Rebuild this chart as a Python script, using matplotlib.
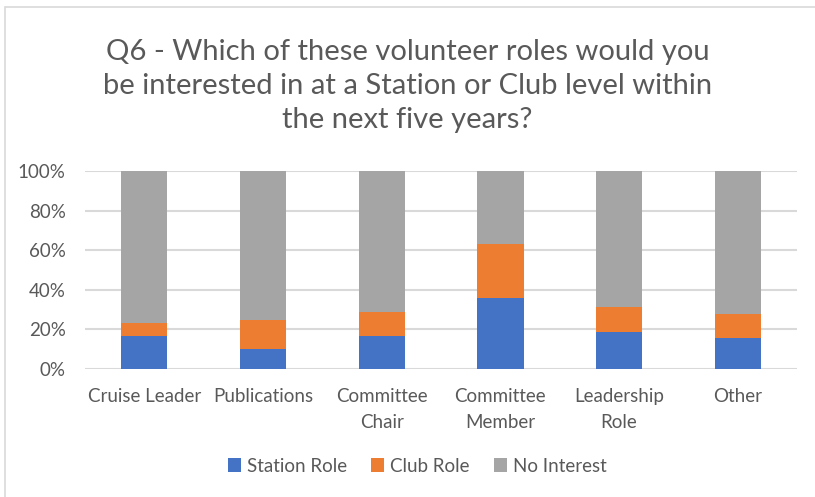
import matplotlib.pyplot as plt
from matplotlib.patches import Rectangle
import numpy as np

# survey answers (share of respondents, %)
roles = ['Cruise Leader', 'Publications', 'Committee\nChair', 'Committee\nMember', 'Leadership\nRole', 'Other']
station_role = [16.6, 9.9, 16.6, 36.0, 18.8, 15.5]
club_role = [6.8, 15.1, 12.1, 27.2, 12.3, 12.2]
no_interest = [76.6, 75.0, 71.3, 36.8, 68.9, 72.3]

plt.rcParams['font.family'] = ['Lato', 'DejaVu Sans']
text_col = '#595959'
colors = ['#4472C4', '#ED7D31', '#A5A5A5']

fig = plt.figure(figsize=(8.15, 4.97), dpi=100)
ax = fig.add_axes([0.1043, 0.2575, 0.8737, 0.3985])

x = np.arange(len(roles))
w = 0.39
s = np.array(station_role)
c = np.array(club_role)
n = np.array(no_interest)
ax.bar(x, s, w, color=colors[0], label='Station Role', zorder=3)
ax.bar(x, c, w, bottom=s, color=colors[1], label='Club Role', zorder=3)
ax.bar(x, n, w, bottom=s + c, color=colors[2], label='No Interest', zorder=3)

ax.set_xlim(-0.5, len(roles) - 0.5)
ax.set_ylim(0, 100)
ax.set_yticks(range(0, 101, 20))
ax.set_yticklabels([f'{v}%' for v in range(0, 101, 20)])
ax.set_xticks(x)
ax.set_xticklabels(roles, linespacing=1.6)
ax.tick_params(axis='y', length=0, pad=14, labelsize=13.5, labelcolor=text_col)
ax.tick_params(axis='x', length=0, pad=14, labelsize=13.5, labelcolor=text_col)
ax.grid(axis='y', color='#D9D9D9', linewidth=1.5, zorder=0)
for sp in ax.spines.values():
    sp.set_visible(False)

fig.text(0.5, 0.826,
         'Q6 - Which of these volunteer roles would you\nbe interested in at a Station or Club level within\nthe next five years?',
         ha='center', va='center', fontsize=21, color=text_col, linespacing=1.38)

fig.legend(loc='center', bbox_to_anchor=(0.512, 1 - 466 / 497), ncol=3, frameon=False,
           fontsize=13.5, labelcolor=text_col, handlelength=0.7, handleheight=0.7,
           handletextpad=0.3, columnspacing=1.3)

# chart frame
fig.patches.append(Rectangle((5 / 815, -0.1), 1.1, 1 - 7 / 497 + 0.1, transform=fig.transFigure,
                             fill=False, edgecolor='#D9D9D9', linewidth=1.2))

fig.savefig('out.png', dpi=100)
